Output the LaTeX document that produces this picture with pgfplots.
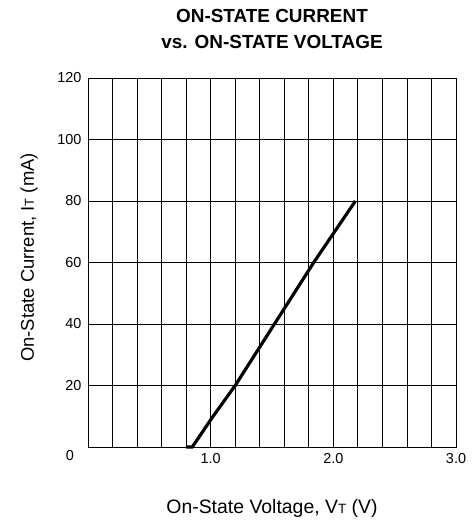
\documentclass[border=0pt]{standalone}
\usepackage{fontspec}
\setmainfont{Liberation Sans}
\usepackage{pgfplots}
\pgfplotsset{compat=1.18}
\begin{document}
\begin{tikzpicture}[x=1bp,y=1bp]
\useasboundingbox (0,0) rectangle (473,527);
\node[align=center,font=\fontsize{19}{27}\selectfont\bfseries] at (272,498) {ON-STATE CURRENT\\vs. ON-STATE VOLTAGE};
\begin{axis}[
  at={(88bp,80bp)}, anchor=south west,
  width=368bp, height=369bp, scale only axis,
  xmin=0, xmax=3, ymin=0, ymax=120,
  xtick={0,0.2,...,3.01},
  xticklabels={,,,,,1.0,,,,,2.0,,,,,3.0},
  ytick={0,20,40,60,80,100,120},
  yticklabels={,20,40,60,80,100,120},
  grid=major,
  major grid style={black, line width=0.8pt},
  axis line style={black, line width=0.9pt},
  major tick length=0pt,
  tick label style={font=\fontsize{14.5}{15}\selectfont},
  /pgf/number format/assume math mode=true,
  xticklabel style={yshift=-3bp},
  yticklabel style={xshift=-3bp},
  xlabel={On-State Voltage, V{\fontsize{13.5}{14}\selectfont T} (V)},
  ylabel={On-State Current, I{\fontsize{13}{14}\selectfont T} (mA)},
  xlabel style={font=\fontsize{19.5}{20}\selectfont, at={(0.5,0)}, anchor=center, yshift=-61bp},
  ylabel style={font=\fontsize{18.5}{19}\selectfont, at={(0,0.5)}, anchor=center, yshift=59bp, xshift=5bp},
  clip=false,
]
\addplot[black, line width=3.2pt] coordinates {
 (0.80,0) (0.85,0) (1.02,10) (1.20,20) (1.52,40) (1.84,60) (2.18,80)
};
\node[font=\fontsize{14.5}{15}\selectfont] at (rel axis cs:0,0) [xshift=-18bp, yshift=-9bp] {0};
\end{axis}
\end{tikzpicture}
\end{document}
